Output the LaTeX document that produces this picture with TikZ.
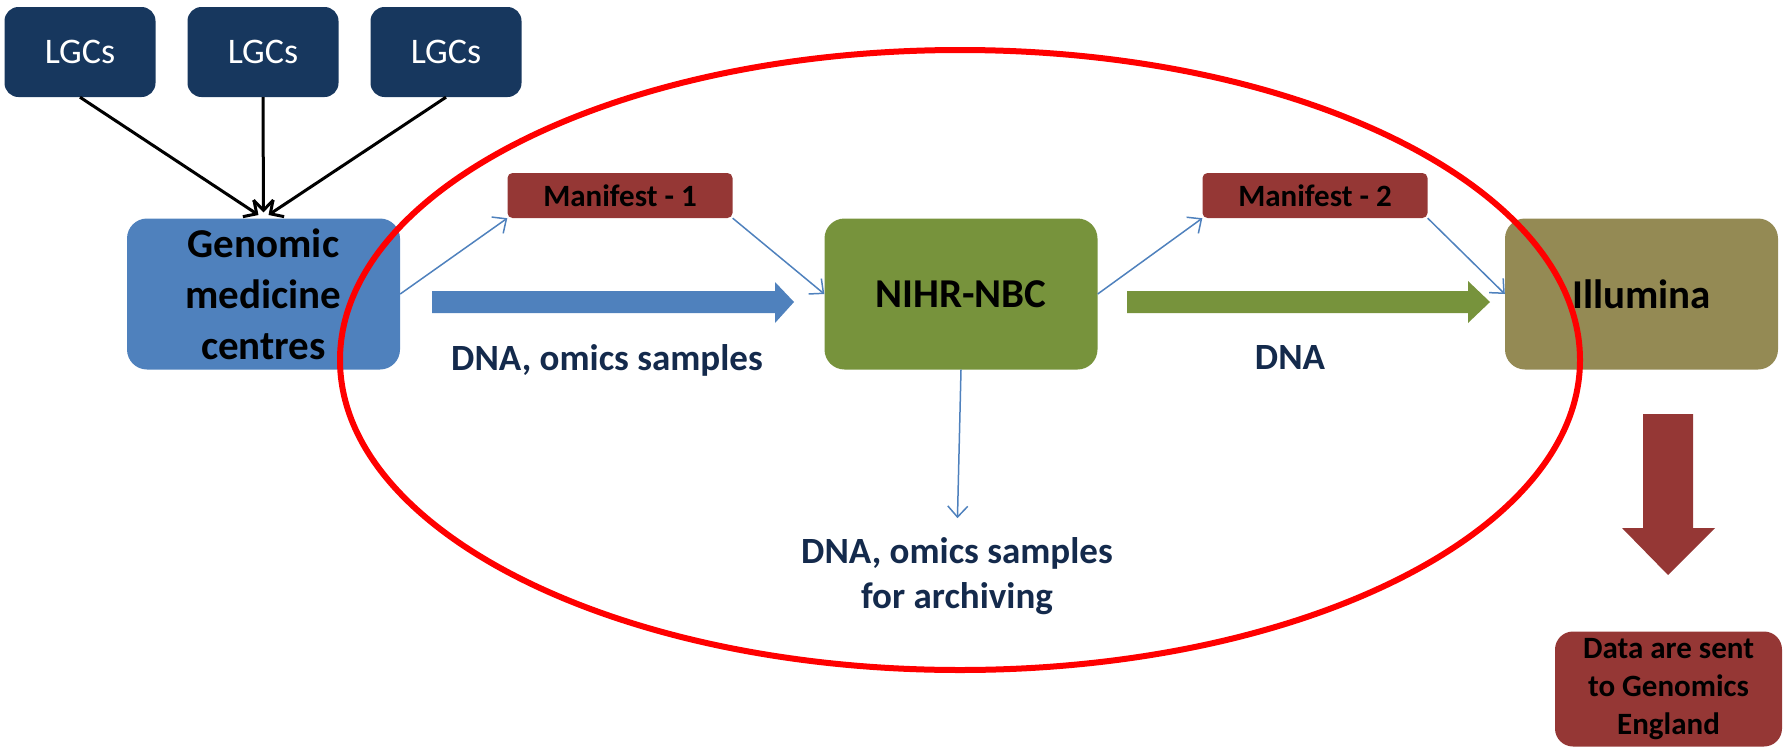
\documentclass[tikz,border=0pt]{standalone}
\usepackage{fontspec}
\setmainfont{Carlito}
\usetikzlibrary{arrows.meta,calc}
\definecolor{cLGC}{HTML}{17375E}
\definecolor{cBlue}{HTML}{4F81BD}
\definecolor{cMan}{HTML}{953735}
\definecolor{cGreen}{HTML}{77933C}
\definecolor{cOlive}{HTML}{948A54}
\definecolor{cTxt}{HTML}{142A4C}
\begin{document}
\begin{tikzpicture}[x=1pt,y=-1pt,
  lgcbox/.style={rectangle, fill=cLGC, rounded corners=14pt, minimum width=151pt, minimum height=90pt, inner sep=0pt, text=white, font=\fontsize{36}{42}\selectfont},
  bigbox/.style={rectangle, rounded corners=20pt, minimum width=273pt, minimum height=151pt, inner sep=0pt, align=center, font=\bfseries\fontsize{41}{51}\selectfont},
  manbox/.style={rectangle, fill=cMan, rounded corners=5pt, minimum width=225pt, minimum height=45pt, inner sep=0pt, font=\bfseries\fontsize{31}{36}\selectfont},
  databox/.style={rectangle, fill=cMan, rounded corners=18pt, minimum width=227pt, minimum height=115pt, inner sep=0pt, align=center, font=\bfseries\fontsize{31}{38}\selectfont},
  lbl/.style={text=cTxt, inner sep=0pt, align=center, font=\bfseries\fontsize{37}{45}\selectfont},
  thinarrow/.style={draw=cBlue, line width=1.5pt, -{Straight Barb[length=11pt,width=20pt,line width=1.5pt]}},
  feed/.style={draw=black, line width=3pt, -{Straight Barb[length=10pt,width=20pt,line width=3pt]}, shorten >=6pt}
]
\useasboundingbox (0,0) rectangle (1785,747);

% top boxes
\node[lgcbox] (lgc1) at (80,52) {LGCs};
\node[lgcbox] (lgc2) at (263,52) {LGCs};
\node[lgcbox] (lgc3) at (446,52) {LGCs};

% main boxes
\node[bigbox, fill=cBlue] (gmc) at (263.5,294) {Genomic\\medicine\\centres};
\node[manbox] (m1) at (620,195.5) {Manifest - 1};
\node[bigbox, fill=cGreen] (nihr) at (961,294) {NIHR-NBC};
\node[manbox] (m2) at (1315,195.5) {Manifest - 2};
\node[bigbox, fill=cOlive] (illu) at (1641.5,294) {Illumina};
\node[databox] (data) at (1668.5,689) {Data are sent\\to Genomics\\England};

% labels
\node[lbl] (l1) at (607,360) {DNA, omics samples};
\node[lbl] (l2) at (1290,357) {DNA};
\node[lbl] (arch) at (957,576) {DNA, omics samples\\for archiving};

% feed arrows
\draw[feed] (lgc1.south) -- (gmc.north);
\draw[feed] (lgc2.south) -- (gmc.north);
\draw[feed] (lgc3.south) -- (gmc.north);

% thin arrows
\draw[thinarrow] (gmc.east) -- (m1.south west);
\draw[thinarrow] (m1.south east) -- (nihr.west);
\draw[thinarrow] (nihr.east) -- (m2.south west);
\draw[thinarrow] (m2.south east) -- (illu.west);
\draw[thinarrow, shorten >=19pt] (nihr.south) -- (arch.north);

% thick arrows
\fill[cBlue] (432,291) -- (775,291) -- (775,282) -- (794,302) -- (775,323) -- (775,313) -- (432,313) -- cycle;
\fill[cGreen] (1127,291) -- (1468,291) -- (1468,281) -- (1490,302) -- (1468,323) -- (1468,313) -- (1127,313) -- cycle;
\fill[cMan] (1643,414) -- (1693,414) -- (1693,528) -- (1715,528) -- (1668,575) -- (1622,528) -- (1643,528) -- cycle;

% red ellipse
\draw[red, line width=6pt] (960,360) ellipse [x radius=620pt, y radius=310pt];
\end{tikzpicture}
\end{document}
